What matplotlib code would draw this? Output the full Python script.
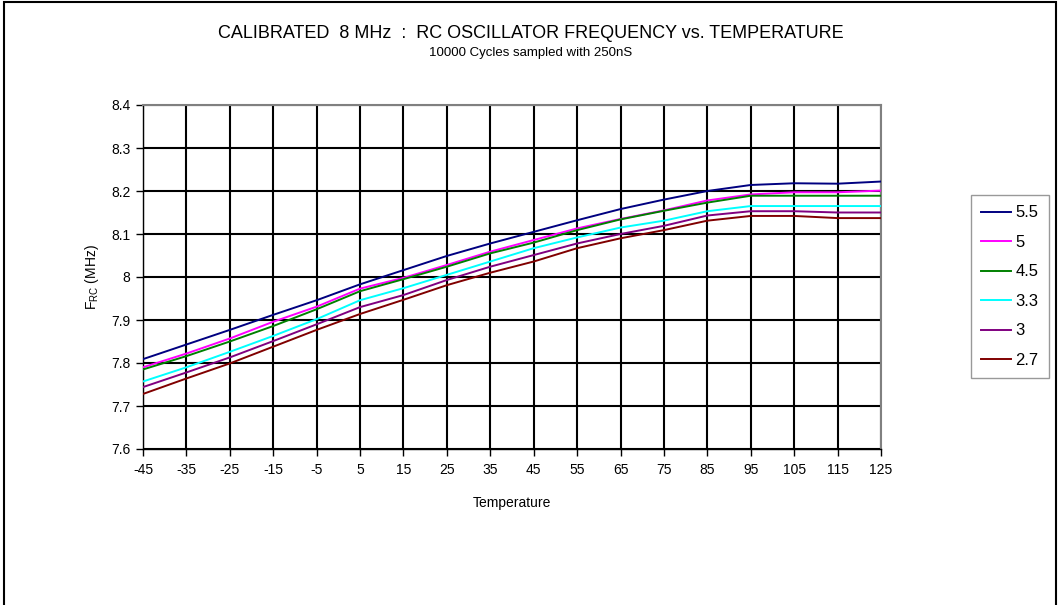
import matplotlib
matplotlib.use("Agg")
import matplotlib.pyplot as plt
from matplotlib.patches import Rectangle

plt.rcParams['font.family'] = ['Liberation Sans', 'DejaVu Sans']
plt.rcParams['axes.unicode_minus'] = False

# temperature (deg C) at the grid columns
temps = [-45, -35, -25, -15, -5, 5, 15, 25, 35, 45, 55, 65, 75, 85, 95, 105, 115, 125]

# calibrated RC frequency (MHz) per supply voltage
f_55 = [7.809, 7.843, 7.877, 7.912, 7.946, 7.983, 8.016, 8.049, 8.078, 8.105,
        8.132, 8.158, 8.180, 8.200, 8.214, 8.218, 8.217, 8.222]
f_50 = [7.790, 7.822, 7.857, 7.896, 7.931, 7.973, 7.998, 8.028, 8.059, 8.086,
        8.113, 8.135, 8.155, 8.178, 8.192, 8.197, 8.197, 8.201]
f_45 = [7.785, 7.816, 7.850, 7.886, 7.925, 7.967, 7.995, 8.024, 8.055, 8.080,
        8.109, 8.134, 8.154, 8.173, 8.189, 8.189, 8.189, 8.189]
f_33 = [7.757, 7.790, 7.826, 7.863, 7.902, 7.946, 7.974, 8.005, 8.036, 8.067,
        8.092, 8.115, 8.131, 8.153, 8.165, 8.165, 8.165, 8.165]
f_30 = [7.744, 7.778, 7.813, 7.851, 7.890, 7.930, 7.958, 7.993, 8.024, 8.051,
        8.078, 8.100, 8.119, 8.143, 8.153, 8.153, 8.150, 8.150]
f_27 = [7.728, 7.764, 7.799, 7.838, 7.877, 7.914, 7.947, 7.981, 8.010, 8.036,
        8.067, 8.090, 8.109, 8.131, 8.142, 8.142, 8.137, 8.137]

labels = ["5.5", "5", "4.5", "3.3", "3", "2.7"]
colors = ["#000080", "#FF00FF", "#008000", "#00FFFF", "#800080", "#800000"]
series = [f_55, f_50, f_45, f_33, f_30, f_27]

fig = plt.figure(figsize=(10.62, 6.05), dpi=100)
ax = fig.add_axes([143 / 1062, 1 - 449 / 605, 738 / 1062, 344 / 605])

lines = []
for vals, lab, col in zip(series, labels, colors):
    ln, = ax.plot(temps, vals, color=col, lw=1.4, label=lab, zorder=3)
    lines.append(ln)

ax.set_xlim(-45, 125)
ax.set_ylim(7.6, 8.4)
ax.set_xticks(range(-45, 126, 10))
ax.set_yticks([7.6, 7.7, 7.8, 7.9, 8.0, 8.1, 8.2, 8.3, 8.4])
ax.set_yticklabels(["7.6", "7.7", "7.8", "7.9", "8", "8.1", "8.2", "8.3", "8.4"])
ax.grid(True, color="black", lw=1.5, zorder=1)
ax.tick_params(direction="out", length=5, width=1, labelsize=10, pad=4)
ax.tick_params(axis="x", pad=5)
for s in ["top", "right"]:
    ax.spines[s].set_color("#808080")
    ax.spines[s].set_linewidth(1.5)
for s in ["left", "bottom"]:
    ax.spines[s].set_color("black")
    ax.spines[s].set_linewidth(1.0)

ax.set_xlabel("Temperature", fontsize=10, labelpad=14)
ax.set_ylabel(r"F$_{\mathregular{RC}}$ (MHz)", fontsize=10, labelpad=7)

fig.text(0.5, 1 - 34 / 605, "CALIBRATED  8 MHz  :  RC OSCILLATOR FREQUENCY vs. TEMPERATURE",
         ha="center", va="center", fontsize=13)
fig.text(0.5, 1 - 53 / 605, "10000 Cycles sampled with 250nS",
         ha="center", va="center", fontsize=9.5)

leg = fig.legend(handles=lines, loc="upper left", bbox_to_anchor=(971 / 1062, 1 - 195 / 605),
                 fontsize=12, frameon=True, fancybox=False, edgecolor="#808080",
                 handlelength=1.8, handletextpad=0.25, labelspacing=0.87,
                 borderpad=0.62, borderaxespad=0)
leg.get_frame().set_linewidth(1.0)

# outer chart border
fig.patches.append(Rectangle((4 / 1062, -0.05), 1052 / 1062, 1.05 - 2 / 605,
                             transform=fig.transFigure, fill=False,
                             edgecolor="black", lw=1.5))

fig.savefig("out.png", dpi=100)
